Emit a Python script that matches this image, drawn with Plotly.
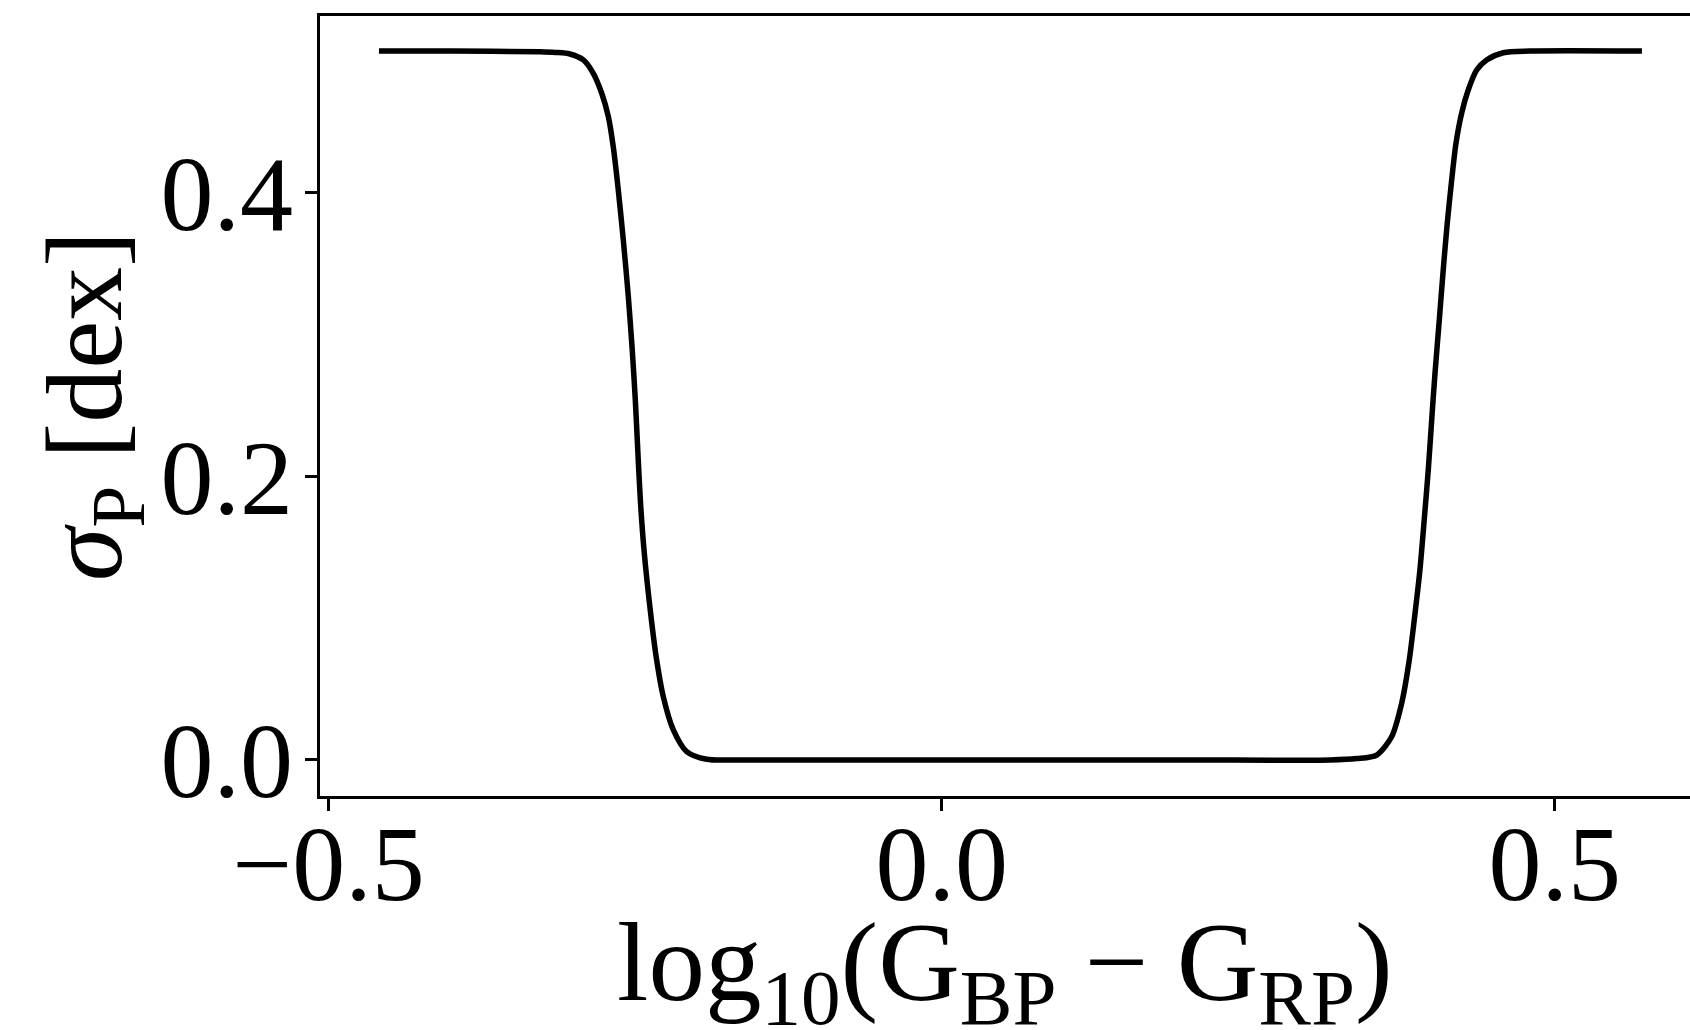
import plotly.graph_objects as go

# sigma_P versus log10 colour: plateau at 0.5 dex, well at 0 dex
log_colour = [
    -0.459, -0.40, -0.3277, -0.315, -0.3032, -0.2923, -0.2842, -0.2773, -0.2719,
    -0.2679, -0.2638, -0.2597, -0.2556, -0.2524, -0.2499, -0.2479, -0.2458,
    -0.2428, -0.2374, -0.2325, -0.2271, -0.2189, -0.2080, -0.1917, -0.1672,
    0.0, 0.1, 0.2, 0.3167, 0.3385, 0.3548, 0.3670, 0.3752, 0.3814, 0.3861,
    0.3901, 0.3936, 0.3969, 0.3997, 0.4024, 0.4059, 0.4091, 0.4124, 0.4160,
    0.4195, 0.4241, 0.4295, 0.4364, 0.4445, 0.4581, 0.4798, 0.5712,
]
sigma_p = [
    0.500, 0.500, 0.4995, 0.4990, 0.4979, 0.4937, 0.4843, 0.4702, 0.4537,
    0.4325, 0.4020, 0.3667, 0.3267, 0.2891, 0.2539, 0.2186, 0.1834,
    0.1481, 0.1034, 0.0705, 0.0447, 0.0212, 0.0059, 0.0005, 0.0,
    0.0, 0.0, 0.0, 0.0, 0.001, 0.0035, 0.0164, 0.0400, 0.0705, 0.1034,
    0.1340, 0.1693, 0.2045, 0.2398, 0.2727, 0.3103, 0.3456, 0.3785, 0.4090,
    0.4349, 0.4561, 0.4725, 0.4866, 0.4937, 0.4988, 0.500, 0.500,
]

x_ticks = [-0.5, 0.0, 0.5]
y_ticks = [0.0, 0.2, 0.4]
x_label = "log<sub>10</sub>(G<sub>BP</sub> − G<sub>RP</sub>)"
y_label = "<i>σ</i><sub>P</sub> [dex]"

FONT = "Liberation Serif"

fig = go.Figure(
    go.Scatter(
        x=log_colour,
        y=sigma_p,
        mode="lines",
        line=dict(color="black", width=5.5, shape="spline", smoothing=0.8),
        showlegend=False,
    )
)

axis_common = dict(
    showgrid=False,
    zeroline=False,
    showline=True,
    linecolor="black",
    linewidth=2.8,
    ticks="outside",
    ticklen=12,
    tickwidth=2.5,
    tickcolor="black",
    tickformat=".1f",
    tickfont=dict(family=FONT, size=106, color="black"),
)

fig.update_layout(
    width=1690,
    height=1030,
    margin=dict(l=320, r=0, t=16, b=234),
    paper_bgcolor="white",
    plot_bgcolor="white",
    xaxis=dict(
        **axis_common,
        range=[-0.5071, 0.6104],
        tickvals=x_ticks,
        mirror=True,
        ticklabelstandoff=-38,
    ),
    yaxis=dict(
        **axis_common,
        range=[-0.0254, 0.5247],
        tickvals=y_ticks,
        ticklabelstandoff=-9,
        title=dict(
            text=y_label,
            font=dict(family=FONT, size=108, color="black"),
            standoff=3,
        ),
    ),
)

# x-axis label placed below the tick labels
fig.add_annotation(
    text=x_label,
    xref="paper", yref="paper",
    x=0.5, y=0,
    xanchor="center", yanchor="top",
    yshift=-101,
    showarrow=False,
    font=dict(family=FONT, size=113, color="black"),
)

fig.write_html("out.html")
